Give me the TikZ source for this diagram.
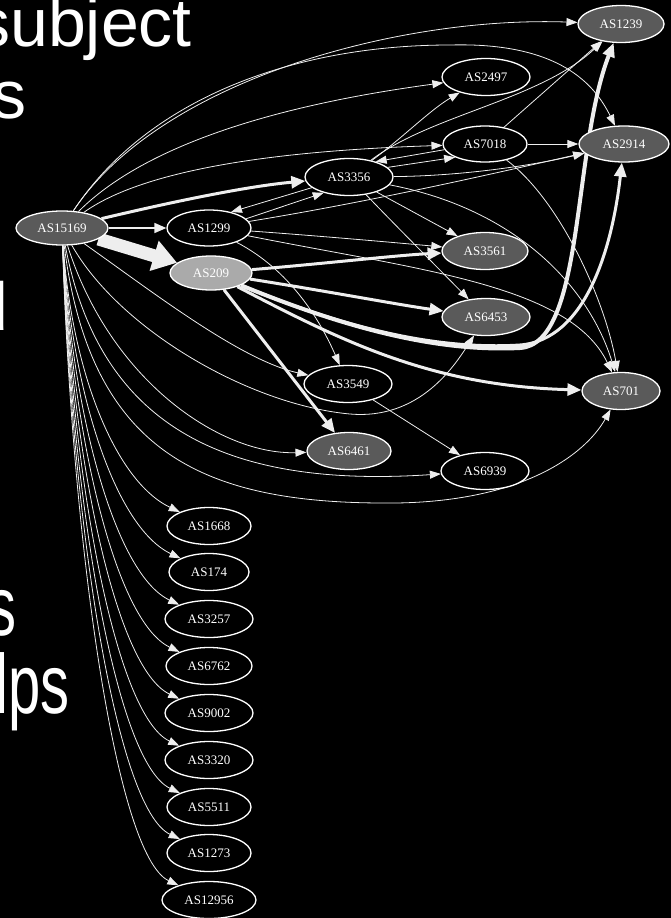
\documentclass[tikz,border=0pt]{standalone}
\usepackage{graphicx}
\usepackage{fontspec}
\setmainfont{Liberation Serif}
\newfontfamily\slidefont{Liberation Sans}
\usetikzlibrary{arrows.meta,shapes.geometric}

\definecolor{nodedark}{HTML}{5A5A5A}
\definecolor{nodelight}{HTML}{AAAAAA}
\definecolor{edgecol}{HTML}{EEEEEE}

\pgfdeclarelayer{background}
\pgfdeclarelayer{edges}
\pgfsetlayers{background,edges,main}

\begin{document}
\begin{tikzpicture}[x=1pt,y=-1pt,
  asnode/.style={ellipse, draw=white, line width=1.3pt, inner sep=0pt,
    minimum height=37pt, text=white, font=\fontsize{13}{13}\selectfont},
  plainas/.style={asnode, fill=black},
  darkas/.style={asnode, fill=nodedark},
  lightas/.style={asnode, fill=nodelight},
  thinedge/.style={draw=edgecol, line width=0.8pt,
    -{Triangle[length=11pt,width=8pt]}},
  midedge/.style={draw=edgecol, line width=1.6pt,
    -{Triangle[length=12pt,width=10pt]}},
  thickedge/.style={draw=edgecol, line width=3pt,
    -{Triangle[length=14pt,width=12pt]}},
  hugeedge/.style={draw=edgecol, line width=13pt,
    -{Triangle[length=24pt,width=30pt]}},
  slidetext/.style={text=white, inner sep=0pt,
    font=\slidefont\fontsize{68}{68}\selectfont},
  slidetextb/.style={text=white, inner sep=0pt,
    font=\slidefont\fontsize{58}{58}\selectfont}
]
\begin{pgfonlayer}{background}
  \fill[black] (0,0) rectangle (671,918);
\end{pgfonlayer}
\useasboundingbox (0,0) rectangle (671,918);

% slide text
\node[slidetext, anchor=base east] (t1) at (192,46) {subject};
\node[slidetext, anchor=base east] (t2) at (27,118) {s};
\node[slidetext, anchor=base east] (t3) at (9,330) {d};
\node[slidetextb, anchor=base east] (t4) at (17,635) {\scalebox{1}[1.45]{s}};
\node[slidetextb, anchor=base east] (t5) at (70,713) {\scalebox{1}[1.45]{lps}};

% AS nodes
\node[darkas, minimum width=92pt, minimum height=34pt] (n15169) at (62,228) {AS15169};
\node[plainas, minimum width=84pt, minimum height=36pt] (n1299) at (209,228) {AS1299};
\node[lightas, minimum width=82pt, minimum height=34pt] (n209) at (211,273) {AS209};
\node[plainas, minimum width=88pt] (n3356) at (349,177) {AS3356};
\node[plainas, minimum width=88pt] (n2497) at (486,77) {AS2497};
\node[plainas, minimum width=84pt, minimum height=36pt] (n7018) at (485,144) {AS7018};
\node[darkas, minimum width=90pt, minimum height=36pt] (n2914) at (624,144) {AS2914};
\node[darkas, minimum width=86pt] (n1239) at (621,24) {AS1239};
\node[darkas, minimum width=86pt] (n3561) at (485,251) {AS3561};
\node[darkas, minimum width=88pt] (n6453) at (486,317) {AS6453};
\node[plainas, minimum width=88pt] (n3549) at (348,384) {AS3549};
\node[darkas, minimum width=78pt] (n701) at (621,391) {AS701};
\node[darkas, minimum width=84pt] (n6461) at (349,451) {AS6461};
\node[plainas, minimum width=88pt] (n6939) at (485,471) {AS6939};

\foreach \n/\y/\w in {1668/526/84, 174/572/80, 3257/619/88, 6762/666/86,
    9002/713/88, 3320/760/88, 5511/807/84, 1273/853/84, 12956/900/94}
  \node[plainas, minimum width=\w pt] (n\n) at (209,\y) {AS\n};

\begin{pgfonlayer}{edges}
% from AS15169
\draw[thinedge] (n15169) .. controls (160,80) and (400,16) .. (n1239);
\draw[thinedge] (n15169) .. controls (150,95) and (300,45) .. (450,45)
  .. controls (560,42) and (595,85) .. (n2914);
\draw[thinedge] (n15169) .. controls (160,130) and (330,98) .. (n2497);
\draw[thinedge] (n15169) .. controls (150,165) and (300,150) .. (n7018);
\draw[thickedge] (n15169) .. controls (180,200) and (250,186) .. (n3356);
\draw[midedge] (n15169) -- (n1299);
\draw[hugeedge] (n15169) -- (n209);
\draw[thinedge] (n15169) .. controls (150,290) and (240,360) .. (n3549);
\draw[thinedge] (n15169) .. controls (120,330) and (250,405) .. (350,414)
  .. controls (420,420) and (455,365) .. (n6453);
\draw[thinedge] (n15169) .. controls (110,380) and (220,455) .. (n6461);
\draw[thinedge] (n15169) .. controls (100,430) and (230,488) .. (n6939);
\draw[thinedge] (n15169) .. controls (90,450) and (200,502) .. (380,503)
  .. controls (520,505) and (585,455) .. (n701);
\foreach \n/\y in {1668/526, 174/572, 3257/619, 6762/666, 9002/713,
    3320/760, 5511/807, 1273/853, 12956/900}
  \draw[thinedge] (n15169) .. controls (72,{245+(\y-245)*0.45})
    and (115,{\y-45}) .. (n\n);

% AS1299 <-> AS3356, drawn as two close parallel lines
\draw[thinedge] (n3356.196) -- (n1299.36);
\draw[thinedge] (n1299.14) -- (n3356.212);

% AS3356 <-> AS7018, likewise
\draw[thinedge] (n7018.188) -- (n3356.30);
\draw[thinedge] (n3356.14) -- (n7018.204);

% from AS1299
\draw[thinedge] (n1299) .. controls (320,236) and (400,243) .. (n3561);
\draw[thinedge] (n1299) .. controls (420,270) and (570,285) .. (n701);
\draw[thinedge] (n1299) .. controls (290,270) and (320,320) .. (n3549);
\draw[thinedge] (n1299) .. controls (380,200) and (500,172) .. (n2914);

% from AS3356
\draw[thinedge] (n3356) .. controls (400,140) and (430,110) .. (n2497);
\draw[thinedge] (n3356) .. controls (460,176) and (530,166) .. (n2914);
\draw[thinedge] (n3356) .. controls (430,115) and (540,100) .. (n1239);
\draw[thinedge] (n3356) -- (n3561);
\draw[thinedge] (n3356) .. controls (400,230) and (440,270) .. (n6453);
\draw[thinedge] (n3356) .. controls (520,210) and (590,290) .. (n701);

% from AS7018
\draw[thinedge] (n7018) -- (n2914);
\draw[thinedge] (n7018) -- (n1239);
\draw[thinedge] (n7018) .. controls (560,200) and (605,300) .. (n701);

% from AS209
\draw[thickedge] (n209) .. controls (320,264) and (400,255) .. (n3561);
\draw[thickedge] (n209) .. controls (320,290) and (400,305) .. (n6453);
\draw[thickedge, line width=4pt] (n209) .. controls (350,330) and (440,352) .. (520,348)
  .. controls (585,344) and (572,150) .. (n1239);
\draw[thickedge] (n209) .. controls (350,330) and (440,350) .. (520,345)
  .. controls (585,340) and (612,250) .. (n2914);
\draw[thickedge] (n209) .. controls (340,340) and (430,386) .. (n701);
\draw[thickedge] (n209) -- (n6461);

% from AS3549
\draw[thinedge] (n3549) -- (n6939);
\end{pgfonlayer}
\end{tikzpicture}
\end{document}
